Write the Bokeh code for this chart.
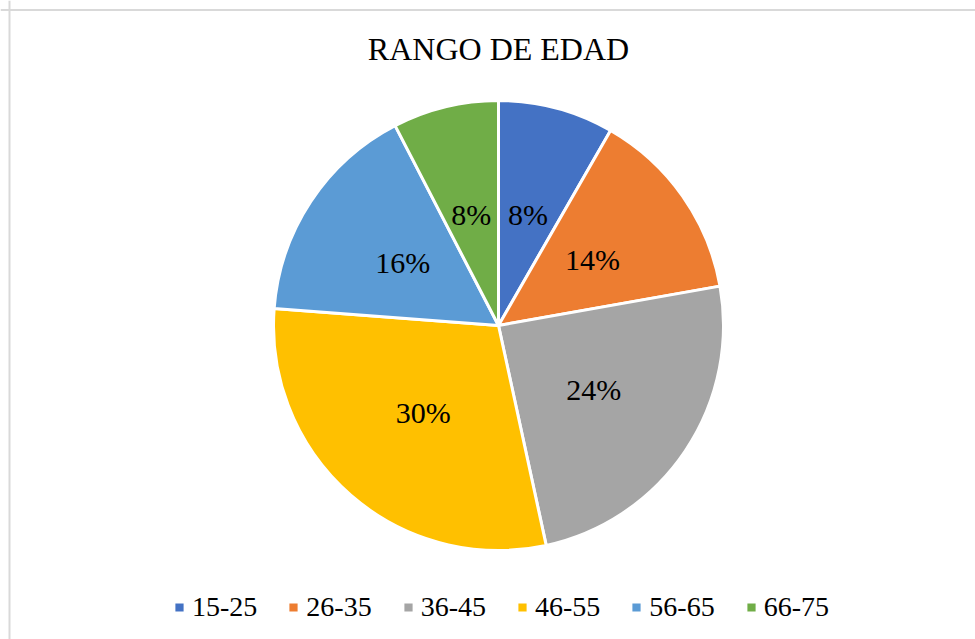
import math
from bokeh.plotting import figure
from bokeh.models import Range1d, Legend, LegendItem, Label, Span, ColumnDataSource
from bokeh.core.properties import value
from bokeh.embed import file_html
from bokeh.resources import INLINE

categories = ["15-25", "26-35", "36-45", "46-55", "56-65", "66-75"]
shares = [8.3, 13.9, 24.4, 29.6, 16.2, 7.6]
colors = ["#4472C4", "#ED7D31", "#A5A5A5", "#FFC000", "#5B9BD5", "#70AD47"]
title_text = "RANGO DE EDAD"

W, H = 975, 639
FONT = "Liberation Serif"

p = figure(width=W, height=H, output_backend="svg", toolbar_location=None,
           x_range=Range1d(0, W), y_range=Range1d(0, H), min_border=0,
           outline_line_color=None)
p.axis.visible = False
p.grid.visible = False
p.background_fill_color = "white"
p.border_fill_color = "white"

cx, cy, R = 498, 314, 225
total = sum(shares)
starts, ends, lx, ly, labels = [], [], [], [], []
cum = 0
for v in shares:
    a0 = math.pi / 2 - 2 * math.pi * cum / total
    cum += v
    a1 = math.pi / 2 - 2 * math.pi * cum / total
    starts.append(a1)
    ends.append(a0)
    mid = (a0 + a1) / 2
    lx.append(cx + 0.51 * R * math.cos(mid))
    ly.append(cy + 0.51 * R * math.sin(mid))
    labels.append(f"{int(v / total * 100 + 0.5)}%")

src = ColumnDataSource(dict(cat=categories, start=starts, end=ends, color=colors,
                            lx=lx, ly=ly, label=labels))

wedges = p.wedge(x=cx, y=cy, radius=R, start_angle="start", end_angle="end",
                 direction="anticlock", fill_color="color", line_color="white",
                 line_width=3, source=src)

p.text(x="lx", y="ly", text="label", source=src, text_align="center",
       text_baseline="middle", text_font=value(FONT), text_font_size="30px",
       text_color="#000000")

p.add_layout(Label(x=498, y=591, text=title_text, text_align="center",
                   text_baseline="middle", text_font=FONT, text_font_size="32px",
                   text_color="#000000"))

p.add_layout(Span(location=9, dimension="height", line_color="#d9d9d9", line_width=2))
p.add_layout(Span(location=H - 9.5, dimension="width", line_color="#d9d9d9", line_width=2))

items = [LegendItem(label=c, renderers=[wedges], index=i) for i, c in enumerate(categories)]
legend = Legend(items=items, orientation="horizontal", location=(172, 16),
                glyph_width=14, glyph_height=14, label_standoff=6, spacing=29,
                padding=0, margin=0, border_line_color=None, background_fill_alpha=0,
                label_text_font=FONT, label_text_font_size="28px",
                label_text_color="#000000")
p.add_layout(legend, "center")

open("out.html", "w").write(file_html(p, INLINE))
